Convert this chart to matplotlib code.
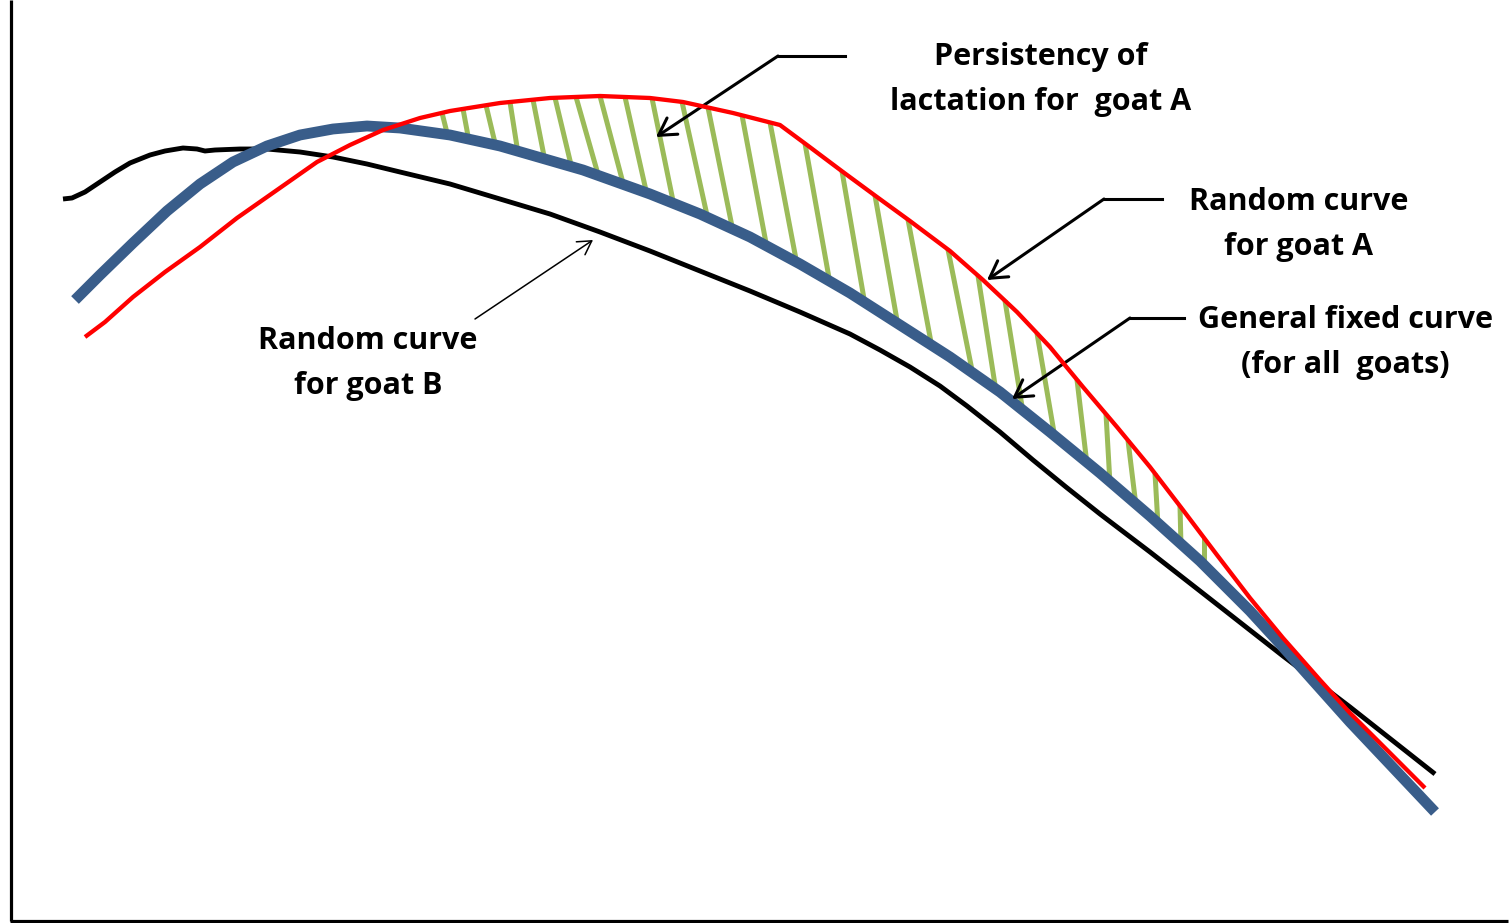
import matplotlib
matplotlib.use('Agg')
import matplotlib.pyplot as plt
import numpy as np

# curves, in pixel coordinates (x, y down)
goatB_x = [63, 72, 85, 100, 115, 130, 150, 165, 183, 197, 205, 215, 240, 267, 300, 333, 367, 400,
           450, 500, 550, 600, 650, 700, 750, 800, 850, 880, 910, 940, 967, 1000, 1033, 1066, 1100,
           1150, 1200, 1283, 1350, 1435]
goatB_y = [199, 198, 192, 182, 172, 163, 155, 151, 148, 149, 151, 150, 149, 149, 152, 157, 164, 172,
           184, 199, 214, 232, 251, 271, 291, 312, 334, 350, 367, 386, 406, 432, 460, 487, 514,
           552, 591, 656, 707, 774]

fixed_x = [75, 100, 133, 167, 200, 233, 267, 300, 333, 367, 400, 450, 500, 583, 650, 700, 750, 800,
           850, 900, 950, 1000, 1050, 1100, 1150, 1200, 1250, 1283, 1350, 1435]
fixed_y = [300, 275, 243, 211, 184, 162, 146, 135, 129, 126, 128, 135, 146, 170, 194, 214, 237, 264,
           293, 325, 357, 392, 432, 473, 516, 561, 611, 647, 722, 812]

goatA_x = [85, 105, 133, 165, 200, 237, 267, 317, 350, 383, 420, 450, 500, 550, 600, 650, 683, 733,
           780, 807, 843, 877, 910, 950, 983, 1017, 1050, 1083, 1117, 1150, 1183, 1217, 1250, 1283,
           1320, 1350, 1425]
goatA_y = [337, 322, 297, 272, 247, 218, 197, 162, 145, 130, 118, 111, 103, 98, 96, 98, 102, 113,
           125, 145, 172, 197, 221, 251, 280, 312, 347, 387, 427, 467, 510, 555, 598, 638,
           680, 713, 788]

# hatching between goat A and the fixed curve (x where each stroke meets the curves)
hatch_top_x = [442, 463, 486, 510, 533, 555, 576, 600, 625, 652, 682, 708, 742, 770, 805, 842, 875,
               908, 948, 978, 1005, 1037, 1077, 1106, 1128, 1155, 1180, 1204]
hatch_bot_x = [448, 469, 496, 518, 545, 572, 599, 624, 647, 674, 708, 733, 767, 797, 830, 865, 898,
               932, 973, 996, 1023, 1055, 1087, 1110, 1136, 1158, 1181, 1204]

W, H = 1509, 923
fig = plt.figure(figsize=(W / 100, H / 100), dpi=100)
ax = fig.add_axes([0, 0, 1, 1])
ax.set_xlim(0, W)
ax.set_ylim(H, 0)
ax.axis('off')

# axes lines
ax.plot([10.5, 10.5], [0, 921], color='black', lw=2.3, solid_capstyle='butt')
ax.plot([10, 1508], [920.5, 920.5], color='black', lw=2.3, solid_capstyle='butt')

top_y = np.interp(hatch_top_x, goatA_x, goatA_y)
bot_y = np.interp(hatch_bot_x, fixed_x, fixed_y)
for xt, yt, xb, yb in zip(hatch_top_x, top_y, hatch_bot_x, bot_y):
    ax.plot([xt, xb], [yt, yb + 2], color='#9BBB59', lw=3.6, solid_capstyle='butt', zorder=1)

ax.plot(goatB_x, goatB_y, color='black', lw=3.5, solid_capstyle='butt', solid_joinstyle='round', zorder=2)
ax.plot(fixed_x, fixed_y, color='#395D8A', lw=7.8, solid_capstyle='butt', solid_joinstyle='round', zorder=3)
ax.plot(goatA_x, goatA_y, color='#FF0000', lw=3.1, solid_capstyle='butt', solid_joinstyle='round', zorder=4)

font = dict(family='Open Sans', fontweight='bold', fontsize=22, ha='center', va='baseline')
thick = dict(arrowstyle='->,head_length=0.6,head_width=0.35', color='black', lw=2.2,
             mutation_scale=20, shrinkA=0, shrinkB=0)
thin = dict(arrowstyle='->,head_length=0.6,head_width=0.35', color='black', lw=1.1,
            mutation_scale=16, shrinkA=0, shrinkB=0)

# Persistency of lactation
ax.text(1041, 65, 'Persistency of', **font)
ax.text(1041, 110, 'lactation for  goat A', **font)
ax.plot([845, 778], [56, 56], color='black', lw=2.2)
ax.annotate('', xy=(656, 137), xytext=(778, 56), arrowprops=thick)

# Random curve for goat A
ax.text(1299, 210, 'Random curve', **font)
ax.text(1299, 255, 'for goat A', **font)
ax.plot([1162, 1104], [199, 199], color='black', lw=2.2)
ax.annotate('', xy=(987, 280), xytext=(1104, 199), arrowprops=thick)

# General fixed curve
ax.text(1345, 328, 'General fixed curve', **font)
ax.text(1345, 373, '(for all  goats)', **font)
ax.plot([1184, 1130], [318, 318], color='black', lw=2.2)
ax.annotate('', xy=(1012, 399), xytext=(1130, 318), arrowprops=thick)

# Random curve for goat B
ax.text(368, 349, 'Random curve', **font)
ax.text(368, 394, 'for goat B', **font)
ax.annotate('', xy=(593, 240), xytext=(475, 319), arrowprops=thin)

plt.savefig('out.png', dpi=100)
